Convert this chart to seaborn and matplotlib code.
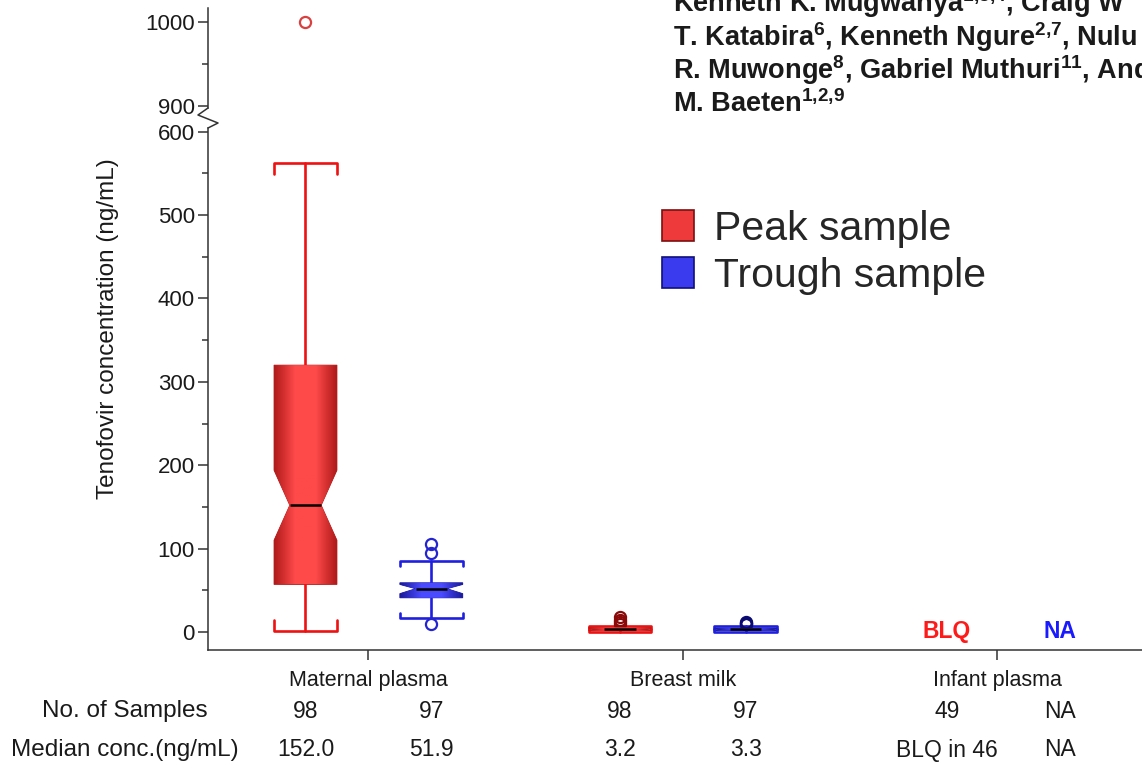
import matplotlib

matplotlib.use("Agg")
import matplotlib.pyplot as plt
import matplotlib.transforms as mtransforms
import numpy as np
import seaborn as sns
from matplotlib.colors import LinearSegmentedColormap
from matplotlib.lines import Line2D
from matplotlib.patches import Patch
from matplotlib.ticker import MultipleLocator

# --- values ---
GROUPS = ["Maternal plasma", "Breast milk", "Infant plasma"]
SAMPLES = ["Peak sample", "Trough sample"]

# one entry per box (ng/mL)
BOX_GROUP = ["Maternal plasma", "Maternal plasma", "Breast milk", "Breast milk"]
BOX_SAMPLE = ["Peak sample", "Trough sample", "Peak sample", "Trough sample"]
WHISKER_LO = [1, 17, 0.5, 0.5]
Q1 = [57, 41, 1.5, 1.8]
MEDIAN = [152.0, 51.9, 3.2, 3.3]
Q3 = [320, 59, 5.5, 4.8]
WHISKER_HI = [563, 85, 7.6, 7.0]
NOTCH_LO = [110, 46, 2.5, 2.6]
NOTCH_HI = [194, 57, 3.9, 4.0]
FLIERS = [[1000], [9, 95, 105], [10, 12, 14, 18], [9, 10, 11, 12]]

# table under the plot, one column per box position
N_SAMPLES = ["98", "97", "98", "97", "49", "NA"]
MEDIAN_TEXT = ["152.0", "51.9", "3.2", "3.3", "BLQ in 46", "NA"]
INFANT_FLAGS = ["BLQ", "NA"]

AUTHORS = [
    r"Kenneth K. Mugwanya$^{1{,}3{,}4}$, Craig W",
    r"T. Katabira$^{6}$, Kenneth Ngure$^{2{,}7}$, Nulu",
    r"R. Muwonge$^{8}$, Gabriel Muthuri$^{11}$, And",
    r"M. Baeten$^{1{,}2{,}9}$",
]

# --- style / layout ---
W, H = 1142, 764
SIDE = {"Peak sample": -0.2, "Trough sample": 0.2}
TABLE_X = [-0.2, 0.2, 0.8, 1.2, 1.84, 2.2]
BOX_W = 0.2
CAP_TICK_PX = [11, 5, 3, 3]
STYLE = {
    "Peak sample": dict(line="#ee1111", dark="#b01a1a", light="#ff4a4a", text="#ff1a1a"),
    "Trough sample": dict(line="#1f1fe0", dark="#1a1a9a", light="#4a4aff", text="#1a1aff"),
}
FLIER_COLORS = ["#d94040", "#2424d0", "#8a0a0a", "#0a0a70"]
SPINE = "#333333"
TEXT = "#1a1a1a"
GRAD = np.linspace(0, 1, 64).reshape(1, -1)

sns.set_theme(style="ticks")
plt.rcParams["font.family"] = ["Liberation Sans", "DejaVu Sans"]
plt.rcParams["mathtext.fontset"] = "custom"
plt.rcParams["mathtext.rm"] = "Liberation Sans:bold"
plt.rcParams["mathtext.bf"] = "Liberation Sans:bold"
plt.rcParams["mathtext.it"] = "Liberation Sans:bold"

fig = plt.figure(figsize=(W / 100, H / 100), dpi=100)
fig.patch.set_facecolor("white")


def fx(px):
    return px / W


def fy(py):
    return 1 - py / H


left = fx(208)
ax_top = fig.add_axes([left, fy(108), 1 - left, fy(8) - fy(108)])
ax_low = fig.add_axes([left, fy(650), 1 - left, fy(128) - fy(650)], sharex=ax_top)

ax_top.set_ylim(897.6, 1016.7)
ax_low.set_ylim(-21.6, 604.4)
ax_low.set_xlim(-0.51, 2.46)


def shade_box(ax, patch, dark, light):
    ext = patch.get_path().get_extents()
    cmap = LinearSegmentedColormap.from_list("shade", [dark, light, light, dark])
    im = ax.imshow(
        GRAD,
        extent=[ext.x0, ext.x1, ext.y0, ext.y1],
        aspect="auto",
        cmap=cmap,
        interpolation="bilinear",
        zorder=2.05,
    )
    im.set_clip_path(patch)


for ax in (ax_top, ax_low):
    ylo, yhi = ax.get_ylim()
    px_per_unit = ax.get_position().height * H / (yhi - ylo)
    for i in range(len(MEDIAN)):
        sample = BOX_SAMPLE[i]
        st = STYLE[sample]
        pos = GROUPS.index(BOX_GROUP[i]) + SIDE[sample]
        stats = dict(
            whislo=WHISKER_LO[i], q1=Q1[i], med=MEDIAN[i], q3=Q3[i],
            whishi=WHISKER_HI[i], cilo=NOTCH_LO[i], cihi=NOTCH_HI[i],
            fliers=np.array(FLIERS[i]), label=sample,
        )
        art = ax.bxp(
            [stats], positions=[pos], widths=[BOX_W], capwidths=[BOX_W],
            shownotches=True, patch_artist=True, manage_ticks=False,
            boxprops=dict(facecolor=st["light"], edgecolor=st["dark"], linewidth=0.6),
            whiskerprops=dict(color=st["line"], linewidth=1.9),
            capprops=dict(color=st["line"], linewidth=1.9),
            medianprops=dict(color="black", linewidth=1.8),
            flierprops=dict(marker="o", markersize=8, markerfacecolor="none",
                            markeredgecolor=FLIER_COLORS[i], markeredgewidth=1.6),
        )
        shade_box(ax, art["boxes"][0], st["dark"], st["light"])
        # bracket shaped caps, ends turned toward the box
        d = CAP_TICK_PX[i] / px_per_unit
        for cap, sign in zip(art["caps"], (1, -1)):
            x0, x1 = cap.get_xdata()
            y = cap.get_ydata()[0]
            cap.set_data([x0, x0, x1, x1], [y + sign * d, y, y, y + sign * d])
    ax.set_ylim(ylo, yhi)

ax_low.set_xlim(-0.51, 2.46)

# infant plasma has no boxes, only flags
for j, flag in enumerate(INFANT_FLAGS):
    ax_low.text(TABLE_X[4 + j], 0, flag, ha="center", va="center", fontsize=16.5,
                fontweight="bold", color=STYLE[SAMPLES[j]]["text"])

# axes styling
for ax in (ax_top, ax_low):
    ax.set_facecolor("white")
    ax.yaxis.set_major_locator(MultipleLocator(100))
    ax.yaxis.set_minor_locator(MultipleLocator(50))
    ax.tick_params(axis="y", which="major", length=7.5, width=1.1, color=SPINE,
                   labelsize=16, pad=2, labelcolor=TEXT)
    ax.tick_params(axis="y", which="minor", length=4, width=1.1, color=SPINE)
    ax.spines["left"].set_color(SPINE)
    ax.spines["left"].set_linewidth(1.1)
    ax.grid(False)

sns.despine(ax=ax_top, bottom=True)
sns.despine(ax=ax_low)
ax_top.tick_params(axis="x", which="both", bottom=False, labelbottom=False)
ax_low.spines["bottom"].set_color(SPINE)
ax_low.spines["bottom"].set_linewidth(1.1)
ax_low.set_xticks(range(len(GROUPS)))
ax_low.set_xticklabels(GROUPS)
ax_low.tick_params(axis="x", length=7.5, width=1.1, color=SPINE, labelsize=15.5,
                   pad=7, labelcolor=TEXT)

# axis break zigzag
zig_x = [fx(208), fx(198), fx(218), fx(208)]
zig_y = [fy(108), fy(115), fy(123), fy(128)]
fig.add_artist(Line2D(zig_x, zig_y, transform=fig.transFigure, color=SPINE, lw=1.1))

fig.text(fx(108), fy(329), "Tenofovir concentration (ng/mL)", rotation=90,
         ha="center", va="center", fontsize=17.5, color=TEXT)

# table below the axis
tr = mtransforms.blended_transform_factory(ax_low.transData, fig.transFigure)
rows = [("No. of Samples", N_SAMPLES, 711), ("Median conc.(ng/mL)", MEDIAN_TEXT, 750)]
for label, values, ypx in rows:
    fig.text(fx(125), fy(ypx), label, ha="center", va="center", fontsize=17.5, color=TEXT)
    for x, v in zip(TABLE_X, values):
        ax_low.text(x, fy(ypx), v, transform=tr, ha="center", va="center",
                    fontsize=16.5, color=TEXT, clip_on=False)

# legend
handles = [
    Patch(facecolor="#ee3a3a", edgecolor="#7a1010", linewidth=1.2, label=SAMPLES[0]),
    Patch(facecolor="#3a3aee", edgecolor="#10107a", linewidth=1.2, label=SAMPLES[1]),
]
fig.legend(handles=handles, loc="upper left", bbox_to_anchor=(fx(662), fy(210)),
           frameon=False, fontsize=29.5, handlelength=0.78, handleheight=0.78,
           handletextpad=0.5, labelspacing=0.22, borderpad=0, borderaxespad=0)

# author header, cut at the figure edge as in the source
for line, base in zip(AUTHORS, [12, 45.5, 79, 112.5]):
    fig.text(fx(673), fy(base), line, ha="left", va="baseline", fontsize=19.5,
             fontweight="bold", color=TEXT)

fig.savefig("out.png", dpi=100)
